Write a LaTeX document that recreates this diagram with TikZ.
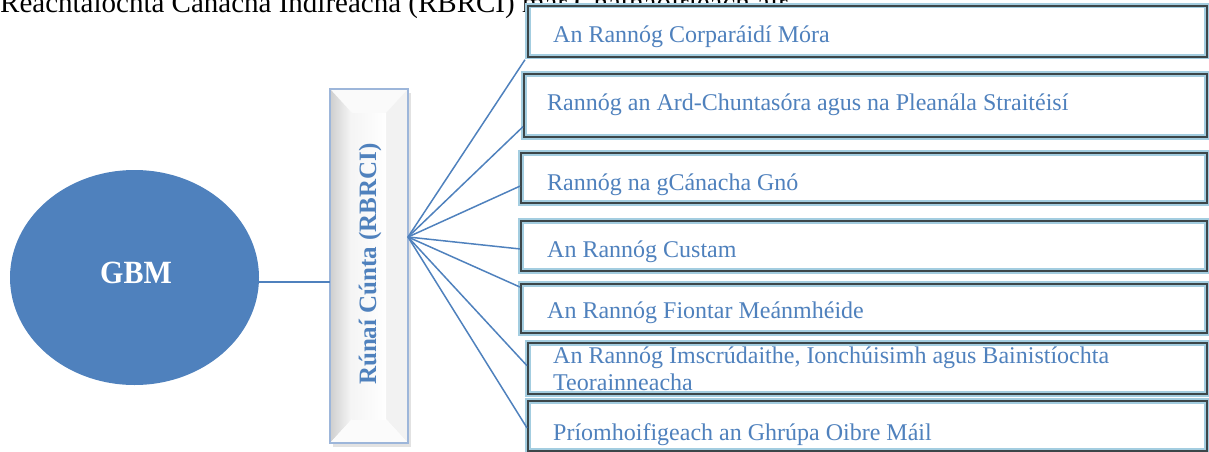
\documentclass[tikz,border=0pt]{standalone}
\usepackage{fontspec}
\setmainfont{Liberation Serif}
\usetikzlibrary{shapes.geometric,calc}
\definecolor{accent}{HTML}{4F81BD}
\definecolor{glow}{HTML}{A3CDE0}
\definecolor{darkedge}{HTML}{3C4649}
\definecolor{bevelblue}{HTML}{9DB6DA}
\begin{document}
\begin{tikzpicture}[x=1pt,y=-1pt,
  divbox/.style={rectangle, inner sep=0pt, anchor=north west, fill=white,
    draw=glow, double=darkedge, line width=1.7pt, double distance=1.9pt},
  divtext/.style={anchor=base west, inner sep=0pt, text=accent,
    font=\fontsize{24}{28}\selectfont},
  conn/.style={draw=accent, line width=1.5pt}]
\useasboundingbox (0,0) rectangle (1209,452);
\begin{scope}
\clip (0,0) rectangle (1209,452);
% heading line, cut off at the top
\node[anchor=base west, inner sep=0pt, font=\fontsize{29}{34}\selectfont] (head) at (0,13)
  {Reachtaíochta Cánacha Indíreacha (RBRCI) mar Chathaoirleach air};

% GBM ellipse
\node[ellipse, fill=accent, minimum width=249pt, minimum height=215pt, inner sep=0pt] (gbm) at (134.5,277.5) {};
\node[text=white, font=\bfseries\fontsize{30}{34}\selectfont, inner sep=0pt] (gbmt) at (136,272.5) {\scalebox{1}[1.08]{GBM}};

% Runai Cunta bevel box
\node[rectangle, inner sep=0pt, minimum width=78pt, minimum height=354pt] (rc) at (369,266) {};
\fill[gray!45, opacity=0.5] ($(rc.north west)+(3,4)$) rectangle ($(rc.south east)+(3,4)$);
\fill[white] (rc.north west) rectangle (rc.south east);
\fill[gray!4] (330,89) -- (408,89) -- (386,113) -- (352,113) -- cycle;
\shade[left color=gray!38, right color=gray!6] (330,89) -- (352,113) -- (352,419) -- (330,443) -- cycle;
\fill[gray!10] (408,89) -- (386,113) -- (386,419) -- (408,443) -- cycle;
\fill[gray!3] (330,443) -- (408,443) -- (386,419) -- (352,419) -- cycle;
\shade[left color=gray!8, right color=white] (352,113) rectangle (386,419);
\draw[bevelblue, line width=2.4pt] (rc.north west) rectangle (rc.south east);
\node[rotate=90, text=accent, font=\bfseries\fontsize{25}{30}\selectfont, inner sep=0pt] (rct) at (370,264) {Rúnaí Cúnta (RBRCI)};

% connector GBM -> Runai
\coordinate (g1) at ($(gbm.east)+(-1,4.5)$);
\draw[conn] (g1) -- (g1 -| rc.west);

% division boxes
\node[divbox, minimum width=679pt, minimum height=51pt] (b1) at (527,5) {};
\node[divbox, minimum width=683pt, minimum height=63pt] (b2) at (523,73) {};
\node[divbox, minimum width=686pt, minimum height=50pt] (b3) at (520,152) {};
\node[divbox, minimum width=686pt, minimum height=50pt] (b4) at (520,220) {};
\node[divbox, minimum width=686pt, minimum height=49pt] (b5) at (520,283) {};
\node[divbox, minimum width=679pt, minimum height=51pt] (b6) at (527,342) {};
\node[divbox, minimum width=679pt, minimum height=50pt] (b7) at (527,400) {};

% connectors from the hub
\coordinate (hub) at (408,237);
\draw[conn] (hub) -- ($(b1.south west)+(-2,2)$);
\draw[conn] (hub) -- ($(b2.south west)!0.17!(b2.north west)$);
\draw[conn] (hub) -- ($(b3.south west)!0.34!(b3.north west)$);
\draw[conn] (hub) -- ($(b4.south west)!0.44!(b4.north west)$);
\draw[conn] (hub) -- ($(b5.south west)!0.92!(b5.north west)$);
\draw[conn] (hub) -- ($(b6.south west)!0.55!(b6.north west)$);
\draw[conn] (hub) -- ($(b7.south west)!0.46!(b7.north west)$);

% texts
\node[divtext] (t1) at (553,43) {An Rannóg Corparáidí Móra};
\node[divtext] (t2) at (547,110) {Rannóg an Ard-Chuntasóra agus na Pleanála Straitéisí};
\node[divtext] (t3) at (547,190) {Rannóg na gCánacha Gnó};
\node[divtext] (t4) at (547,257) {An Rannóg Custam};
\node[divtext] (t5) at (547,318) {An Rannóg Fiontar Meánmhéide};
\node[divtext] (t6) at (553,363) {An Rannóg Imscrúdaithe, Ionchúisimh agus Bainistíochta};
\node[divtext] (t6b) at (553,390) {Teorainneacha};
\node[divtext] (t7) at (553,440) {Príomhoifigeach an Ghrúpa Oibre Máil};
\end{scope}
\end{tikzpicture}
\end{document}
